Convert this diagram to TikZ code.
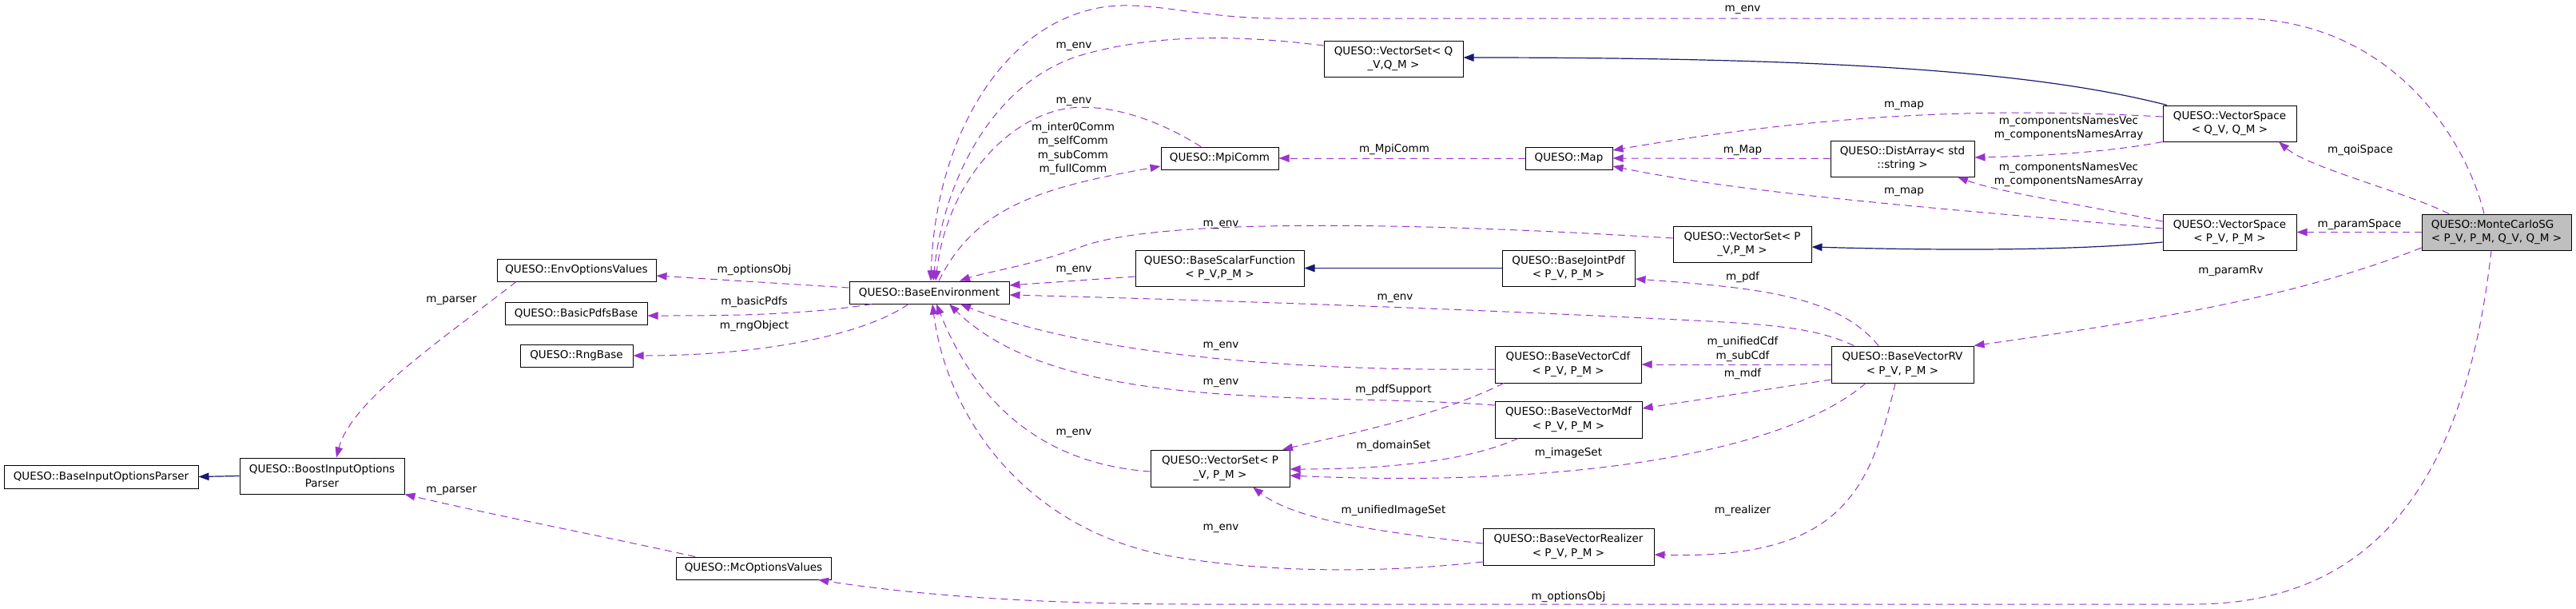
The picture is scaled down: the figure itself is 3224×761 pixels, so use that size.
\documentclass[tikz,border=0pt]{standalone}
\usepackage{fontspec}
\setmainfont{DejaVu Sans}
\usetikzlibrary{arrows.meta}
\definecolor{edgec}{HTML}{9A32CD}
\definecolor{inhc}{HTML}{191970}
\definecolor{mcgray}{HTML}{BFBFBF}
\begin{document}
\begin{tikzpicture}[x=1pt,y=-1pt,
  every node/.style={font=\fontsize{13.5}{17.3}\selectfont},
  box/.style={draw=black, line width=1pt, fill=white, inner sep=0pt, align=center},
  rel/.style={draw=edgec, line width=1pt, dash pattern=on 9pt off 6pt, -{Triangle[length=13pt,width=9.5pt]}},
  inh/.style={draw=inhc, line width=1.2pt, -{Triangle[length=13pt,width=9.5pt]}},
  lbl/.style={inner sep=0pt, align=center},
]
\useasboundingbox (0,0) rectangle (3224,761);
% nodes
\node[box, minimum width=243pt, minimum height=29pt] (biop) at (126.5,596.5) {QUESO::BaseInputOptionsParser};
\node[box, minimum width=206pt, minimum height=45pt] (boost) at (403,595.5) {QUESO::BoostInputOptions\\Parser};
\node[box, minimum width=199pt, minimum height=28pt] (envopt) at (721.5,338) {QUESO::EnvOptionsValues};
\node[box, minimum width=178pt, minimum height=28pt] (pdfs) at (721,392) {QUESO::BasicPdfsBase};
\node[box, minimum width=141pt, minimum height=28pt] (rng) at (721.5,445) {QUESO::RngBase};
\node[box, minimum width=194pt, minimum height=28pt] (mcopt) at (943,711) {QUESO::McOptionsValues};
\node[box, minimum width=200pt, minimum height=28pt] (env) at (1163,366) {QUESO::BaseEnvironment};
\node[box, minimum width=147pt, minimum height=28pt] (mpi) at (1526.5,198) {QUESO::MpiComm};
\node[box, minimum width=174pt, minimum height=45pt] (vsq) at (1744,73.5) {QUESO::VectorSet< Q\\\_V,Q\_M >};
\node[box, minimum width=211pt, minimum height=45pt] (bsf) at (1526.5,335.5) {QUESO::BaseScalarFunction\\< P\_V,P\_M >};
\node[box, minimum width=166pt, minimum height=45pt] (bjp) at (1963,335.5) {QUESO::BaseJointPdf\\< P\_V, P\_M >};
\node[box, minimum width=173pt, minimum height=45pt] (vsp1) at (2180.5,305.5) {QUESO::VectorSet< P\\\_V,P\_M >};
\node[box, minimum width=183pt, minimum height=46pt] (cdf) at (1962.5,456) {QUESO::BaseVectorCdf\\< P\_V, P\_M >};
\node[box, minimum width=184pt, minimum height=46pt] (mdf) at (1963,525) {QUESO::BaseVectorMdf\\< P\_V, P\_M >};
\node[box, minimum width=174pt, minimum height=46pt] (vsp2) at (1527,586) {QUESO::VectorSet< P\\\_V, P\_M >};
\node[box, minimum width=214pt, minimum height=46pt] (real) at (1963,684) {QUESO::BaseVectorRealizer\\< P\_V, P\_M >};
\node[box, minimum width=109pt, minimum height=28pt] (map) at (1963.5,198) {QUESO::Map};
\node[box, minimum width=180pt, minimum height=45pt] (dist) at (2381,198.5) {QUESO::DistArray< std\\::string >};
\node[box, minimum width=167pt, minimum height=45pt] (spq) at (2790.5,154.5) {QUESO::VectorSpace\\< Q\_V, Q\_M >};
\node[box, minimum width=167pt, minimum height=45pt] (spp) at (2790.5,290.5) {QUESO::VectorSpace\\< P\_V, P\_M >};
\node[box, fill=mcgray, align=left, minimum width=187pt, minimum height=45pt] (mcsg) at (3124.5,290.5) {QUESO::MonteCarloSG\\< P\_V, P\_M, Q\_V, Q\_M >};
\node[box, minimum width=178pt, minimum height=46pt] (rv) at (2381,456) {QUESO::BaseVectorRV\\< P\_V, P\_M >};
% edges
\draw[rel] ([xshift=-15.5pt]mcsg.north) .. controls (3085,170) and (2990,23) .. (2800,23) -- (1600,23) .. controls (1500,23) and (1440,0) .. (1380,9) .. controls (1250,30) and (1170,180) .. ([xshift=2pt]env.north);
\draw[rel] ([yshift=16.5pt]vsq.west) .. controls (1560,45) and (1450,40) .. (1350,70) .. controls (1240,105) and (1180,230) .. ([xshift=5pt]env.north);
\draw[rel] ([xshift=-23.5pt]mpi.north) .. controls (1450,150) and (1390,130) .. (1340,135) .. controls (1260,145) and (1185,230) .. ([xshift=8pt]env.north);
\draw[rel] ([xshift=12pt]env.north) .. controls (1220,260) and (1300,235) .. ([yshift=-10pt]mpi.west);
\draw[rel] (map.west) -- (mpi.east);
\draw[rel] ([yshift=7.5pt]vsp1.west) .. controls (1800,280) and (1450,270) .. (1350,310) .. controls (1280,335) and (1235,340) .. ([xshift=38pt]env.north);
\draw[rel] ([yshift=-10.5pt]bsf.west) -- ([yshift=9pt]env.east);
\draw[inh] (bjp.west) -- (bsf.east);
\draw[rel] ([xshift=-61pt]rv.north) .. controls (2270,408) and (2200,405) .. (2100,400) .. controls (1800,385) and (1500,375) .. ([yshift=-3pt]env.east);
\draw[rel] ([yshift=-6pt]cdf.west) .. controls (1600,465) and (1350,440) .. ([xshift=39pt]env.south);
\draw[rel] ([yshift=18pt]mdf.west) .. controls (1650,490) and (1330,520) .. ([xshift=25pt]env.south);
\draw[rel] ([yshift=-4pt]vsp2.west) .. controls (1300,580) and (1220,500) .. ([xshift=9pt]env.south);
\draw[rel] ([yshift=-19pt]real.west) .. controls (1750,715) and (1600,720) .. (1460,695) .. controls (1280,660) and (1185,520) .. ([xshift=4pt]env.south);
\draw[rel] ([xshift=-80.5pt]cdf.south) .. controls (1800,520) and (1700,540) .. ([xshift=78pt]vsp2.north);
\draw[rel] ([xshift=-63pt]mdf.south) .. controls (1830,580) and (1720,587) .. ([yshift=-1pt]vsp2.east);
\draw[rel] ([xshift=-46pt]rv.south) .. controls (2230,570) and (1950,610) .. ([yshift=-9pt]vsp2.east);
\draw[rel] ([yshift=4pt]real.west) .. controls (1720,665) and (1620,650) .. ([xshift=41pt]vsp2.south);
\draw[rel] ([xshift=-30pt]rv.north) .. controls (2300,370) and (2200,360) .. ([yshift=-13.5pt]bjp.east);
\draw[rel] (rv.west) -- (cdf.east);
\draw[rel] ([yshift=-19pt]rv.west) -- ([yshift=14pt]mdf.east);
\draw[rel] ([xshift=-9pt]rv.south) .. controls (2340,620) and (2300,700) .. ([yshift=-10pt]real.east);
\draw[rel] ([yshift=-19.5pt]mcsg.west) .. controls (2880,370) and (2700,400) .. (rv.north east);
\draw[rel] (mcsg.west) -- (spp.east);
\draw[rel] ([xshift=-59.5pt]mcsg.north) .. controls (3010,240) and (2890,210) .. ([xshift=61.5pt]spq.south);
\draw[rel] ([xshift=-6.5pt]mcsg.south) .. controls (3090,560) and (3000,756) .. (2745,756) -- (1500,756) .. controls (1300,756) and (1150,745) .. ([xshift=81pt]mcopt.south);
\draw[inh] ([xshift=-78.5pt]spq.north) .. controls (2550,90) and (2300,72) .. ([yshift=1.5pt]vsq.east);
\draw[inh] ([yshift=-12.5pt]spp.west) .. controls (2600,313) and (2450,314) .. ([yshift=-3.5pt]vsp1.east);
\draw[rel] ([yshift=8.5pt]spq.west) .. controls (2500,135) and (2300,140) .. ([yshift=10pt]map.east);
\draw[rel] (spq.south west) .. controls (2640,190) and (2560,195) .. ([yshift=1.5pt]dist.east);
\draw[rel] (dist.west) -- (map.east);
\draw[rel] ([yshift=4.5pt]spp.west) .. controls (2450,262) and (2200,245) .. ([yshift=-10pt]map.east);
\draw[rel] ([yshift=13.5pt]spp.west) .. controls (2600,255) and (2500,240) .. ([xshift=69pt]dist.south);
\draw[rel] ([xshift=-75.5pt]envopt.south) .. controls (560,420) and (440,500) .. ([xshift=18pt]boost.north);
\draw[rel] ([xshift=-73pt]mcopt.north) .. controls (750,670) and (620,645) .. (boost.south east);
\draw[inh] (boost.west) -- (biop.east);
\draw[rel] ([yshift=6pt]env.west) -- ([yshift=-7pt]envopt.east);
\draw[rel] ([xshift=-72pt]env.south) .. controls (1000,395) and (900,395) .. ([yshift=-3pt]pdfs.east);
\draw[rel] ([xshift=-26pt]env.south) .. controls (1080,420) and (950,445) .. (rng.east);
% labels
\node[lbl] (l1) at (2181,12) {m\_env};
\node[lbl] (l2) at (1344,58) {m\_env};
\node[lbl] (l3) at (1344,127) {m\_env};
\node[lbl] (l4) at (1343,186) {m\_inter0Comm\\m\_selfComm\\m\_subComm\\m\_fullComm};
\node[lbl] (l5) at (1745,187) {m\_MpiComm};
\node[lbl] (l6) at (1528,281) {m\_env};
\node[lbl] (l7) at (1344,338) {m\_env};
\node[lbl] (l9) at (1746,373) {m\_env};
\node[lbl] (l10) at (1528,433) {m\_env};
\node[lbl] (l10b) at (1528,479) {m\_env};
\node[lbl] (l11) at (1344,542) {m\_env};
\node[lbl] (l12) at (1528,661) {m\_env};
\node[lbl] (l13) at (1744,488) {m\_pdfSupport};
\node[lbl] (l14) at (1744,558) {m\_domainSet};
\node[lbl] (l15) at (1963,567) {m\_imageSet};
\node[lbl] (l16) at (1744,639) {m\_unifiedImageSet};
\node[lbl] (l17) at (2181,347) {m\_pdf};
\node[lbl] (l18) at (2181,437) {m\_unifiedCdf\\m\_subCdf};
\node[lbl] (l19) at (2181,468) {m\_mdf};
\node[lbl] (l20) at (2181,639) {m\_realizer};
\node[lbl] (l21) at (2792,339) {m\_paramRv};
\node[lbl] (l22) at (2953,281) {m\_paramSpace};
\node[lbl] (l23) at (2954,188) {m\_qoiSpace};
\node[lbl] (l24) at (1963,747) {m\_optionsObj};
\node[lbl] (l27) at (2383,132) {m\_map};
\node[lbl] (l28) at (2589,161) {m\_componentsNamesVec\\m\_componentsNamesArray};
\node[lbl] (l29) at (2181,188) {m\_Map};
\node[lbl] (l30) at (2383,240) {m\_map};
\node[lbl] (l31) at (2589,219) {m\_componentsNamesVec\\m\_componentsNamesArray};
\node[lbl] (l32) at (565,376) {m\_parser};
\node[lbl] (l33) at (565,614) {m\_parser};
\node[lbl] (l35) at (944,338) {m\_optionsObj};
\node[lbl] (l36) at (944,378) {m\_basicPdfs};
\node[lbl] (l37) at (944,408) {m\_rngObject};
\end{tikzpicture}
\end{document}
